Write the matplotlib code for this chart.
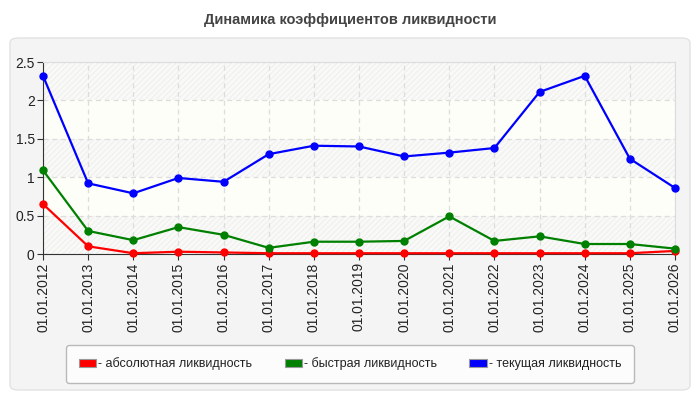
import matplotlib
matplotlib.use("Agg")
import matplotlib.pyplot as plt
from matplotlib.patches import FancyBboxPatch, Rectangle, Patch

dates = ["01.01.2012", "01.01.2013", "01.01.2014", "01.01.2015", "01.01.2016",
         "01.01.2017", "01.01.2018", "01.01.2019", "01.01.2020", "01.01.2021",
         "01.01.2022", "01.01.2023", "01.01.2024", "01.01.2025", "01.01.2026"]
absolute = [0.65, 0.10, 0.01, 0.03, 0.02, 0.01, 0.01, 0.01, 0.01, 0.01, 0.01, 0.01, 0.01, 0.01, 0.04]
quick = [1.09, 0.30, 0.18, 0.35, 0.25, 0.08, 0.16, 0.16, 0.17, 0.49, 0.17, 0.23, 0.13, 0.13, 0.07]
current = [2.32, 0.92, 0.79, 0.99, 0.94, 1.30, 1.41, 1.40, 1.27, 1.32, 1.38, 2.11, 2.32, 1.24, 0.86]
series_names = ["- абсолютная ликвидность", "- быстрая ликвидность", "- текущая ликвидность"]
colors = ["#ff0000", "#008000", "#0000ff"]
yticks = [0, 0.5, 1, 1.5, 2, 2.5]
ytick_labels = ["0", "0.5", "1", "1.5", "2", "2.5"]

plt.rcParams['font.family'] = ['Liberation Sans', 'DejaVu Sans']
plt.rcParams['hatch.linewidth'] = 0.6
plt.rcParams['hatch.color'] = "#ececec"
fig = plt.figure(figsize=(7, 4), dpi=100)
fig.patch.set_facecolor("white")

# outer panel
panel = FancyBboxPatch((10 / 700, 10 / 400), 680 / 700, 352 / 400,
                       boxstyle="round,pad=0,rounding_size=0.012",
                       transform=fig.transFigure, facecolor="#f4f4f4",
                       edgecolor="#e2e2e2", linewidth=1, zorder=-5)
fig.patches.append(panel)

fig.text(0.5, 1 - 20 / 400, "Динамика коэффициентов ликвидности", ha="center", va="center",
         fontsize=10.5, fontweight="bold", color="#444444")

ax = fig.add_axes([43 / 700, 1 - 254 / 400, 632 / 700, 192 / 400])
ax.set_facecolor("#fefefb")
x = list(range(len(dates)))
ax.set_xlim(0, len(dates) - 1)
ax.set_ylim(0, 2.5)

# alternating bands
for i, (lo, hi) in enumerate(zip(yticks[:-1], yticks[1:])):
    if i % 2 == 0:
        ax.add_patch(Rectangle((0, lo), len(dates) - 1, hi - lo, facecolor="#f9f9f7",
                               edgecolor="#ededed", hatch="//////", linewidth=0, zorder=0))
    else:
        ax.add_patch(Rectangle((0, lo), len(dates) - 1, hi - lo, facecolor="#fefef8",
                               linewidth=0, zorder=0))

ax.grid(True, color="#dddddd", linestyle=(0, (4, 3)), linewidth=0.9, zorder=1)
for vals, c, n in zip([absolute, quick, current], colors, series_names):
    ax.plot(x, vals, color=c, linewidth=1.6, marker="o", markersize=5, zorder=3,
            clip_on=False)

ax.set_xticks(x)
ax.set_xticklabels(dates, rotation=90, fontsize=10, color="#222222")
ax.set_yticks(yticks)
ax.set_yticklabels(ytick_labels, fontsize=10, color="#222222")
for s in ["top", "right"]:
    ax.spines[s].set_color("#dddddd")
ax.spines["left"].set_color("#333333")
ax.spines["bottom"].set_color("#333333")
ax.tick_params(axis="both", length=4, color="#333333", pad=2)

handles = [Patch(facecolor=c, edgecolor="#999999", linewidth=0.8) for c in colors]
leg = fig.legend(handles, series_names, loc="center", bbox_to_anchor=(350 / 700, 1 - 364 / 400),
                 ncol=3, frameon=True, fontsize=9, handlelength=1.4, handleheight=0.55,
                 columnspacing=2.6, handletextpad=0.15, borderpad=1.0,
                 fancybox=True, edgecolor="#aaaaaa", facecolor="white")
leg.get_frame().set_linewidth(1)
for t in leg.get_texts():
    t.set_color("#222222")

fig.savefig("out.png", dpi=100, facecolor=fig.get_facecolor())
